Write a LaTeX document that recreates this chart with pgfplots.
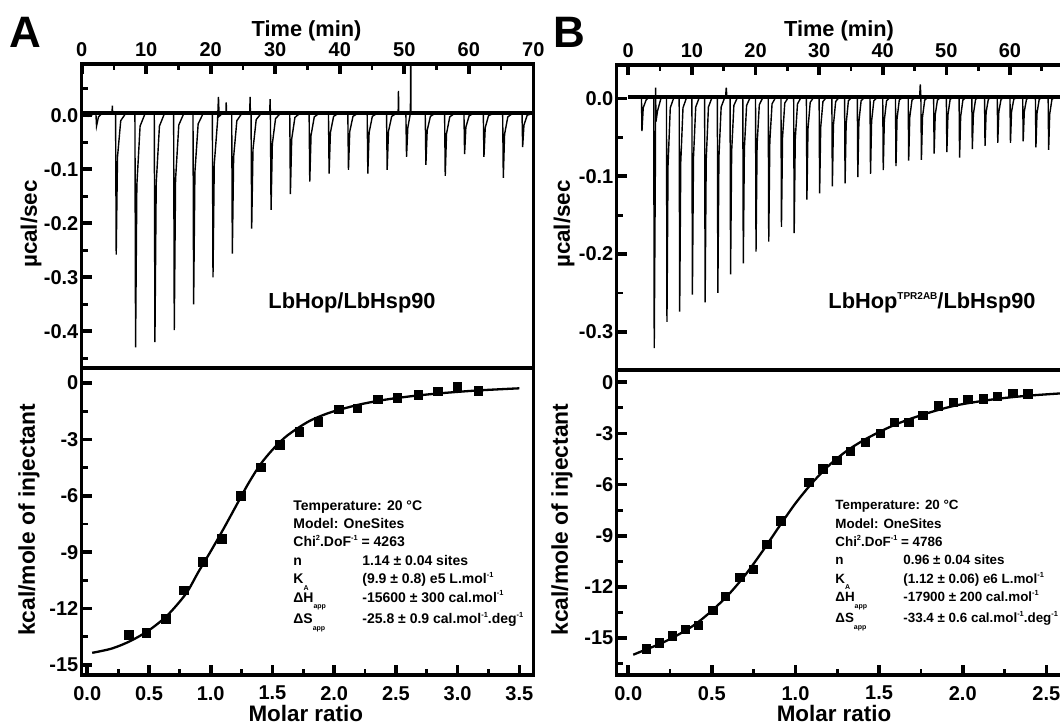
\documentclass[border=0pt]{standalone}
\usepackage{fontspec}
\setmainfont{Liberation Sans}
\usepackage{pgfplots}
\pgfplotsset{compat=1.18}
\newcommand{\sbs}[1]{\raisebox{-0.9ex}{\fontsize{3.5bp}{4bp}\selectfont #1}}
\newcommand{\sps}[1]{\raisebox{0.85ex}{\fontsize{3.7bp}{4bp}\selectfont #1}}
\pgfplotsset{
 itc/.style={
  scale only axis, anchor=south west,
  axis line style={line width=1.6bp},
  every major tick/.append style={black, line width=1.8bp},
  every minor tick/.append style={black, line width=1.4bp},
  major tick length=5bp, minor tick length=3bp,
  tick align=inside,
  scaled ticks=false,
  /pgf/number format/assume math mode=true,
  tick label style={font=\fontsize{10bp}{12bp}\selectfont\bfseries},
  clip=true,
 },
 itctop/.style={itc,
  xtick pos=right, xticklabel pos=right, ytick pos=left,
  yticklabel style={/pgf/number format/fixed, /pgf/number format/fixed zerofill, /pgf/number format/precision=1, inner xsep=1.5bp},
  xticklabel style={/pgf/number format/fixed, /pgf/number format/precision=0},
 },
 itcbot/.style={itc,
  xtick pos=left, xticklabel pos=left, ytick pos=left,
  xticklabel style={/pgf/number format/fixed, /pgf/number format/fixed zerofill, /pgf/number format/precision=1, yshift=-2bp},
  yticklabel style={/pgf/number format/fixed, /pgf/number format/precision=0, inner xsep=1.5bp},
  ytick={-15,-12,-9,-6,-3,0},
  minor ytick={-16.5,-13.5,-10.5,-7.5,-4.5,-1.5},
 },
}
\begin{document}
\begin{tikzpicture}
\useasboundingbox (0,0) rectangle (530bp,362.5bp);
% ---------------- Panel A, raw data
\begin{axis}[itctop, at={(40.85bp,178.5bp)}, width=225.8bp, height=152bp,
 xmin=0, xmax=70, ymin=-0.468, ymax=0.095,
 xtick={0,10,...,70}, minor xtick={5,15,...,65},
 ytick={-0.4,-0.3,-0.2,-0.1,0}, minor ytick={-0.45,-0.35,-0.25,-0.15,-0.05,0.05}]
\addplot[black, line width=1.8bp] coordinates {(0,0.004) (70,0.004)};
\addplot[black, line width=0.7bp] coordinates {
(0,0.006)(1.0,-0.002)(2.2,0.004)(2.3,-0.02)(2.6,-0.003)(3.2,0.004)(4.7,0.004)(4.75,0.018)(4.8,0.004)
(5.25,0.004)(5.35,-0.258)(5.55,-0.077)(6.05,-0.01)(6.85,0.004)
(8.25,0.004)(8.35,-0.430)(8.55,-0.129)(9.05,-0.02)(9.85,0.004)
(11.25,0.004)(11.35,-0.420)(11.55,-0.126)(12.05,-0.02)(12.85,0.004)
(14.25,0.004)(14.35,-0.398)(14.55,-0.119)(15.05,-0.018)(15.85,0.004)
(17.25,0.004)(17.35,-0.350)(17.55,-0.105)(18.05,-0.016)(18.85,0.004)
(20.25,0.004)(20.35,-0.300)(20.55,-0.090)(21.05,-0.012)(21.2,0.034)(21.3,-0.002)(21.85,0.004)
(22.35,0.004)(22.4,0.024)(22.45,0.004)
(23.25,0.004)(23.35,-0.256)(23.55,-0.077)(24.05,-0.01)(24.85,0.004)
(26.05,0.004)(26.1,0.034)(26.15,0.004)
(26.25,0.004)(26.35,-0.210)(26.55,-0.063)(27.05,-0.008)(27.85,0.004)
(29.15,0.004)(29.2,0.03)(29.25,0.004)(29.35,-0.175)(29.55,-0.053)(30.05,-0.006)(30.85,0.004)
(32.25,0.004)(32.35,-0.146)(32.55,-0.044)(33.05,-0.004)(33.85,0.004)
(35.25,0.004)(35.35,-0.123)(35.55,-0.037)(36.05,-0.003)(36.85,0.004)
(38.25,0.004)(38.35,-0.108)(38.55,-0.032)(39.05,-0.002)(39.85,0.004)
(41.25,0.004)(41.35,-0.101)(41.55,-0.030)(42.05,-0.002)(42.85,0.004)
(44.25,0.004)(44.35,-0.108)(44.55,-0.032)(45.05,-0.002)(45.85,0.004)
(47.25,0.004)(47.35,-0.101)(47.55,-0.030)(48.05,-0.002)(48.85,0.004)
(49.05,0.004)(49.1,0.045)(49.15,0.004)
(50.25,0.004)(50.35,-0.077)(50.55,-0.023)(50.95,0.004)(51.0,0.12)(51.05,0.004)(51.85,0.004)
(53.25,0.004)(53.35,-0.092)(53.55,-0.028)(54.05,-0.002)(54.85,0.004)
(56.25,0.004)(56.35,-0.112)(56.55,-0.034)(57.05,-0.003)(57.85,0.004)
(59.25,0.004)(59.35,-0.072)(59.55,-0.022)(60.05,-0.001)(60.85,0.004)
(62.25,0.004)(62.35,-0.077)(62.55,-0.023)(63.05,-0.001)(63.85,0.004)
(65.25,0.004)(65.35,-0.116)(65.55,-0.035)(66.05,-0.003)(66.85,0.004)
(68.25,0.004)(68.35,-0.059)(68.55,-0.018)(69.05,0)(70,0.004)
};
\end{axis}
% ---------------- Panel A, binding isotherm
\begin{axis}[itcbot, at={(40.85bp,25bp)}, width=225.8bp, height=153.5bp,
 xmin=-0.045, xmax=3.613, ymin=-15.53, ymax=0.8,
 xtick={0,0.5,...,3.5}, minor xtick={0.25,0.75,...,3.25}]
\addplot[black, line width=1.15bp, smooth] coordinates {
(0.04,-14.35)(0.2,-14.12)(0.35,-13.72)(0.5,-13.15)(0.65,-12.35)(0.8,-11.2)(0.9,-10.05)
(1.0,-8.95)(1.1,-7.8)(1.2,-6.6)(1.3,-5.4)(1.4,-4.35)(1.5,-3.55)(1.6,-2.9)(1.7,-2.42)
(1.8,-2.02)(1.9,-1.73)(2.0,-1.5)(2.2,-1.15)(2.4,-0.9)(2.6,-0.72)(2.8,-0.58)(3.0,-0.47)
(3.2,-0.38)(3.5,-0.28)};
\addplot[only marks, mark=square*, mark size=2.1bp, black] coordinates {
(0.336,-13.39)(0.48,-13.3)(0.636,-12.55)(0.784,-11.04)(0.938,-9.52)(1.092,-8.30)
(1.246,-6.0)(1.406,-4.48)(1.56,-3.30)(1.716,-2.59)(1.873,-2.07)(2.038,-1.39)
(2.19,-1.36)(2.354,-0.86)(2.51,-0.80)(2.68,-0.64)(2.84,-0.46)(3.00,-0.20)(3.17,-0.41)};
\end{axis}
% ---------------- Panel B, raw data
\begin{axis}[itctop, at={(308.35bp,177.5bp)}, width=234.8bp, height=152.5bp,
 xmin=-1.82, xmax=72, ymin=-0.349, ymax=0.043,
 xtick={0,10,...,60}, minor xtick={5,15,...,65},
 ytick={-0.3,-0.2,-0.1,0}, minor ytick={-0.25,-0.15,-0.05}]
\addplot[black, line width=1.8bp] coordinates {(0,0.002) (72,0.002)};
\addplot[black, line width=0.7bp] coordinates {
(0,0.002)(1.5,0.002)(2.07,0.002)(2.15,-0.042)(2.35,-0.012)(2.8,-0.002)(3.3,0.002)
(4,0.002)(4.08,-0.321)(4.25,-0.096)(4.3,0.014)(4.35,-0.03)(4.6,-0.016)(5.2,0.002)
(6,0.002)(6.08,-0.287)(6.25,-0.086)(6.6,-0.012)(7.2,0.002)
(8,0.002)(8.08,-0.274)(8.25,-0.082)(8.6,-0.012)(9.2,0.002)
(10,0.002)(10.08,-0.252)(10.25,-0.076)(10.6,-0.011)(11.2,0.002)
(12,0.002)(12.08,-0.262)(12.25,-0.079)(12.6,-0.011)(13.2,0.002)
(14,0.002)(14.08,-0.250)(14.25,-0.075)(14.6,-0.011)(15.2,0.002)
(15.3,0.002)(15.4,0.014)(15.5,0.002)
(16,0.002)(16.08,-0.226)(16.25,-0.068)(16.6,-0.009)(17.2,0.002)
(18,0.002)(18.08,-0.212)(18.25,-0.064)(18.6,-0.009)(19.2,0.002)
(20,0.002)(20.08,-0.197)(20.25,-0.059)(20.6,-0.008)(21.2,0.002)
(22,0.002)(22.08,-0.184)(22.25,-0.055)(22.6,-0.007)(23.2,0.002)
(24,0.002)(24.08,-0.165)(24.25,-0.050)(24.6,-0.006)(25.2,0.002)
(26,0.002)(26.08,-0.173)(26.25,-0.052)(26.6,-0.007)(27.2,0.002)
(28,0.002)(28.08,-0.130)(28.25,-0.039)(28.6,-0.005)(29.2,0.002)
(30,0.002)(30.08,-0.122)(30.25,-0.037)(30.6,-0.004)(31.2,0.002)
(32,0.002)(32.08,-0.113)(32.25,-0.034)(32.6,-0.004)(33.2,0.002)
(34,0.002)(34.08,-0.109)(34.25,-0.033)(34.6,-0.003)(35.2,0.002)
(36,0.002)(36.08,-0.101)(36.25,-0.030)(36.6,-0.003)(37.2,0.002)
(38,0.002)(38.08,-0.097)(38.25,-0.029)(38.6,-0.003)(39.2,0.002)
(40,0.002)(40.08,-0.092)(40.25,-0.028)(40.6,-0.003)(41.2,0.002)
(42,0.002)(42.08,-0.087)(42.25,-0.026)(42.6,-0.002)(43.2,0.002)
(44,0.002)(44.08,-0.080)(44.25,-0.024)(44.6,-0.002)(45.2,0.002)
(45.8,0.002)(45.9,0.018)(46,0.002)(46.08,-0.079)(46.25,-0.024)(46.6,-0.002)(47.2,0.002)
(48,0.002)(48.08,-0.071)(48.25,-0.021)(48.6,-0.002)(49.2,0.002)
(50,0.002)(50.08,-0.069)(50.25,-0.021)(50.6,-0.001)(51.2,0.002)
(52,0.002)(52.08,-0.076)(52.25,-0.023)(52.6,-0.002)(53.2,0.002)
(54,0.002)(54.08,-0.065)(54.25,-0.020)(54.6,-0.001)(55.2,0.002)
(56,0.002)(56.08,-0.061)(56.25,-0.018)(56.6,-0.001)(57.2,0.002)
(58,0.002)(58.08,-0.057)(58.25,-0.017)(58.6,-0.001)(59.2,0.002)
(60,0.002)(60.08,-0.057)(60.25,-0.017)(60.6,-0.001)(61.2,0.002)
(62,0.002)(62.08,-0.055)(62.25,-0.017)(62.6,-0.001)(63.2,0.002)
(64,0.002)(64.08,-0.063)(64.25,-0.019)(64.6,-0.001)(65.2,0.002)
(66,0.002)(66.08,-0.066)(66.25,-0.020)(66.6,-0.001)(67.2,0.002)(72,0.002)
};
\end{axis}
% ---------------- Panel B, binding isotherm
\begin{axis}[itcbot, at={(308.35bp,25bp)}, width=234.8bp, height=152.5bp,
 xmin=-0.069, xmax=2.739, ymin=-17.17, ymax=0.72,
 xtick={0,0.5,...,2.5}, minor xtick={0.25,0.75,...,2.75}]
\addplot[black, line width=1.15bp, smooth] coordinates {
(0.03,-15.98)(0.1,-15.7)(0.2,-15.3)(0.3,-14.8)(0.4,-14.2)(0.5,-13.4)(0.6,-12.45)
(0.7,-11.3)(0.8,-9.95)(0.9,-8.5)(1.0,-7.1)(1.1,-5.9)(1.2,-4.88)(1.3,-4.07)(1.4,-3.44)
(1.5,-2.92)(1.6,-2.47)(1.7,-2.1)(1.8,-1.78)(1.9,-1.5)(2.0,-1.28)(2.2,-0.98)(2.4,-0.78)(2.7,-0.58)};
\addplot[only marks, mark=square*, mark size=2.1bp, black] coordinates {
(0.107,-15.63)(0.186,-15.29)(0.263,-14.88)(0.343,-14.51)(0.42,-14.27)(0.505,-13.37)
(0.582,-12.55)(0.667,-11.45)(0.748,-10.96)(0.828,-9.50)(0.913,-8.13)(1.081,-5.89)
(1.164,-5.09)(1.247,-4.60)(1.33,-4.07)(1.418,-3.52)(1.507,-3.00)(1.592,-2.35)
(1.677,-2.37)(1.762,-1.96)(1.855,-1.39)(1.944,-1.17)(2.031,-1.00)(2.122,-0.98)
(2.207,-0.84)(2.30,-0.65)(2.39,-0.69)};
\end{axis}
% ---------------- Texts
\begin{scope}[every node/.style={inner sep=0pt}]
\node[font=\fontsize{22bp}{24bp}\selectfont\bfseries] at (12.5bp,346.5bp) {A};
\node[font=\fontsize{22bp}{24bp}\selectfont\bfseries] at (284.5bp,346.5bp) {B};
\node[font=\fontsize{10.9bp}{12bp}\selectfont\bfseries] at (153.3bp,347bp) {Time (min)};
\node[font=\fontsize{10.9bp}{12bp}\selectfont\bfseries] at (419.5bp,347bp) {Time (min)};
\node[font=\fontsize{11.2bp}{12bp}\selectfont\bfseries, anchor=base] at (152.9bp,1.6bp) {Molar ratio};
\node[font=\fontsize{11.2bp}{12bp}\selectfont\bfseries, anchor=base] at (417bp,1.6bp) {Molar ratio};
\node[font=\fontsize{11.2bp}{12bp}\selectfont\bfseries, rotate=90] at (15.5bp,250.5bp) {µcal/sec};
\node[font=\fontsize{11.2bp}{12bp}\selectfont\bfseries, rotate=90] at (282bp,250.5bp) {µcal/sec};
\node[font=\fontsize{11.4bp}{12bp}\selectfont\bfseries, rotate=90] at (14.5bp,102.5bp) {kcal/mole of injectant};
\node[font=\fontsize{11.4bp}{12bp}\selectfont\bfseries, rotate=90] at (281bp,102.75bp) {kcal/mole of injectant};
\node[font=\fontsize{10.9bp}{12bp}\selectfont\bfseries] at (176bp,211bp) {LbHop/LbHsp90};
\node[font=\fontsize{10.9bp}{12bp}\selectfont\bfseries] at (466bp,211bp) {LbHop\raisebox{0.75ex}{\fontsize{5bp}{6bp}\selectfont TPR2AB}/LbHsp90};
\node[anchor=north west, align=left, font=\fontsize{7bp}{9.2bp}\selectfont\bfseries] at (146.5bp,112.5bp) {%
Temperature: 20 °C\\
Model: OneSites\\
Chi\sps{2}.DoF\sps{-1} = 4263\\
\makebox[34.5bp][l]{n}1.14 ± 0.04 sites\\
\makebox[34.5bp][l]{K\sbs{A}}(9.9 ± 0.8) e5 L.mol\sps{-1}\\
\makebox[34.5bp][l]{ΔH\sbs{app}}-15600 ± 300 cal.mol\sps{-1}\\
\makebox[34.5bp][l]{ΔS\sbs{app}}-25.8 ± 0.9 cal.mol\sps{-1}.deg\sps{-1}};
\node[anchor=north west, align=left, font=\fontsize{6.7bp}{9.2bp}\selectfont\bfseries] at (417.5bp,112.5bp) {%
Temperature: 20 °C\\
Model: OneSites\\
Chi\sps{2}.DoF\sps{-1} = 4786\\
\makebox[34bp][l]{n}0.96 ± 0.04 sites\\
\makebox[34bp][l]{K\sbs{A}}(1.12 ± 0.06) e6 L.mol\sps{-1}\\
\makebox[34bp][l]{ΔH\sbs{app}}-17900 ± 200 cal.mol\sps{-1}\\
\makebox[34bp][l]{ΔS\sbs{app}}-33.4 ± 0.6 cal.mol\sps{-1}.deg\sps{-1}};
\end{scope}
\end{tikzpicture}
\end{document}
